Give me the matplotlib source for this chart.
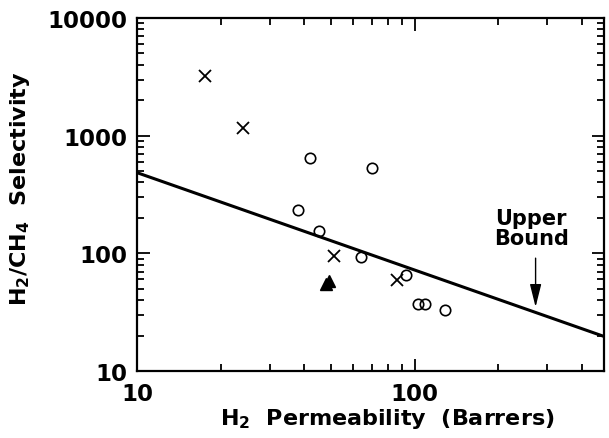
import matplotlib
matplotlib.use("Agg")
import matplotlib.pyplot as plt
from matplotlib.ticker import FixedLocator, FixedFormatter, LogLocator, NullFormatter

plt.rcParams['font.family'] = ['DejaVu Sans']
plt.rcParams['font.weight'] = 'bold'
plt.rcParams['mathtext.fontset'] = 'dejavusans'
plt.rcParams['mathtext.default'] = 'bf'

# Data
cross_x = [17.5, 24, 51, 86]
cross_y = [3200, 1170, 95, 59]

circle_x = [42, 70, 38, 45, 64, 93, 103, 109, 128]
circle_y = [640, 530, 235, 156, 94, 65, 37, 37, 33]

tri_x = [48, 49]
tri_y = [55, 58]

bound_x = [10, 500]
bound_y = [485, 19]

fig = plt.figure(figsize=(6.09, 4.39), dpi=100)
ax = fig.add_axes([0.225, 0.1526, 0.767, 0.8041])

ax.plot(bound_x, bound_y, color='black', lw=2.2, solid_capstyle='butt')
ax.plot(cross_x, cross_y, 'x', color='black', ms=9, mew=1.3, ls='none')
ax.plot(circle_x, circle_y, 'o', mfc='none', mec='black', ms=7.5, mew=1.2, ls='none')
ax.plot(tri_x, tri_y, '^', color='black', ms=8, ls='none')

ax.annotate('', xy=(272, 35), xytext=(272, 91),
            arrowprops=dict(arrowstyle='-|>,head_length=1.4,head_width=0.35',
                            color='black', lw=1.0, shrinkA=0, shrinkB=0))
ax.text(262, 163, 'Upper\nBound', ha='center', va='center', fontsize=15,
        fontweight='bold', linespacing=1.0)

ax.set_xscale('log')
ax.set_yscale('log')
ax.set_xlim(10, 480)
ax.set_ylim(10, 10000)

ax.xaxis.set_major_locator(FixedLocator([10, 100]))
ax.xaxis.set_major_formatter(FixedFormatter(['10', '100']))
ax.xaxis.set_minor_locator(LogLocator(base=10, subs=range(2, 10)))
ax.xaxis.set_minor_formatter(NullFormatter())
ax.yaxis.set_major_locator(FixedLocator([10, 100, 1000, 10000]))
ax.yaxis.set_major_formatter(FixedFormatter(['10', '100', '1000', '10000']))
ax.yaxis.set_minor_locator(LogLocator(base=10, subs=range(2, 10)))
ax.yaxis.set_minor_formatter(NullFormatter())

ax.tick_params(which='both', direction='in', top=True, right=True, width=1.3,
               labelsize=16.5, colors='black')
ax.tick_params(axis='y', which='major', length=9, pad=7)
ax.tick_params(axis='x', which='major', length=9, pad=8)
ax.tick_params(which='minor', length=5)
for lab in ax.get_xticklabels() + ax.get_yticklabels():
    lab.set_fontweight('bold')

for sp in ax.spines.values():
    sp.set_linewidth(1.6)

ax.set_xlabel(r'H$_2$  Permeability  (Barrers)', fontsize=16, fontweight='bold',
              labelpad=0)
ax.xaxis.set_label_coords(0.535, -0.1)
ax.set_ylabel(r'H$_2$/CH$_4$  Selectivity', fontsize=16, fontweight='bold')
ax.yaxis.set_label_coords(-0.225, 0.518)

fig.savefig('out.png', dpi=100)
